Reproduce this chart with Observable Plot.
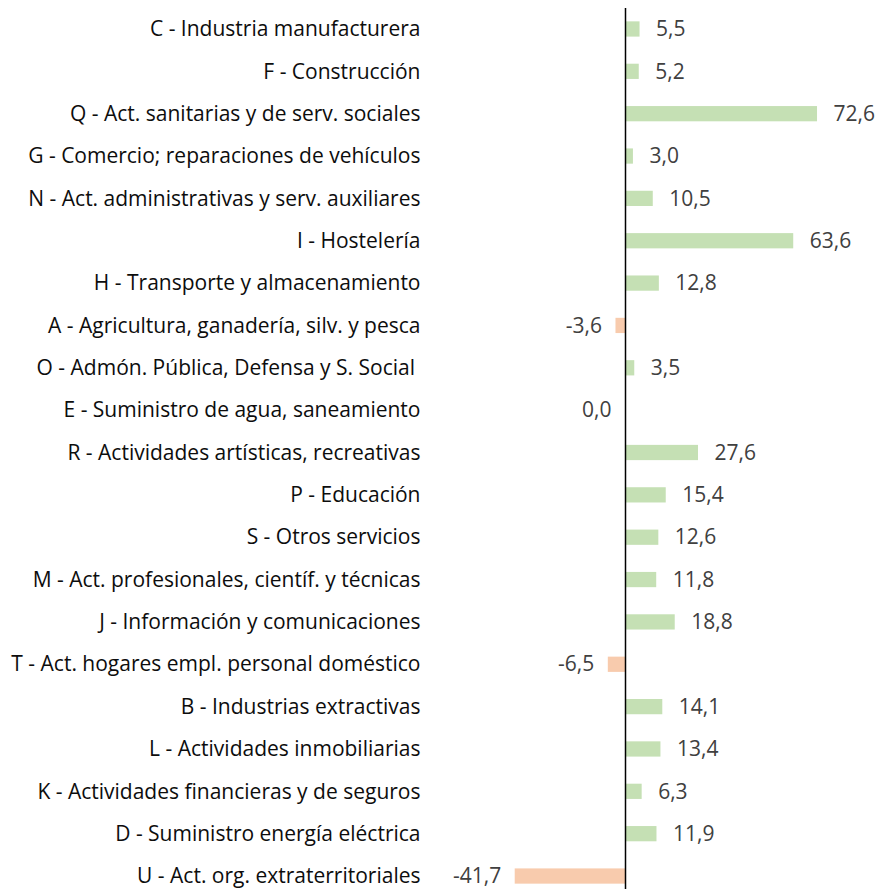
<!DOCTYPE html>
<html>
<head>
<meta charset="utf-8">
<script src="https://cdn.jsdelivr.net/npm/d3@7"></script>
<script src="https://cdn.jsdelivr.net/npm/@observablehq/plot@0.6"></script>
<style>
  html, body { margin: 0; padding: 0; background: #fff; }
  #chart svg { display: block; }
</style>
</head>
<body>
<div id="chart"></div>
<script>
const categories = [
  "C - Industria manufacturera",
  "F - Construcción",
  "Q - Act. sanitarias y de serv. sociales",
  "G - Comercio; reparaciones de vehículos",
  "N - Act. administrativas y serv. auxiliares",
  "I - Hostelería",
  "H - Transporte y almacenamiento",
  "A - Agricultura, ganadería, silv. y pesca",
  "O - Admón. Pública, Defensa y S. Social ",
  "E - Suministro de agua, saneamiento",
  "R - Actividades artísticas, recreativas",
  "P - Educación",
  "S - Otros servicios",
  "M - Act. profesionales, científ. y técnicas",
  "J - Información y comunicaciones",
  "T - Act. hogares empl. personal doméstico",
  "B - Industrias extractivas",
  "L - Actividades inmobiliarias",
  "K - Actividades financieras y de seguros",
  "D - Suministro energía eléctrica",
  "U - Act. org. extraterritoriales"
];
const values = [5.5, 5.2, 72.6, 3.0, 10.5, 63.6, 12.8, -3.6, 3.5, 0.0, 27.6, 15.4, 12.6, 11.8, 18.8, -6.5, 14.1, 13.4, 6.3, 11.9, -41.7];

const data = categories.map((c, i) => ({cat: c, v: values[i]}));
const fmt = d3.formatLocale({decimal: ",", thousands: ".", grouping: [3], currency: ["", "€"], minus: "-"}).format(".1f");
const FONT = "'Open Sans', sans-serif";

const chart = Plot.plot({
  width: 881,
  height: 889,
  marginTop: 8,
  marginBottom: 0,
  marginLeft: 425,
  marginRight: 0,
  style: {fontFamily: FONT, fontSize: "21px", background: "#fff"},
  x: {domain: [-50, 90], range: [625 - 50 * 2.645, 625 + 90 * 2.645], axis: null},
  y: {domain: categories, range: [7.8, 897.2], paddingInner: 0.64, paddingOuter: 0.32, round: false, axis: null},
  marks: [
    Plot.axisY({anchor: "left", tickSize: 0, tickPadding: 5, fill: "#0d0d0d", fontSize: 21, label: null}),
    Plot.barX(data, {x: "v", y: "cat", fill: d => d.v > 0 ? "#c5e0b4" : "#f8cbad"}),
    Plot.ruleX([0], {stroke: "#000", strokeWidth: 1.5}),
    Plot.text(data.filter(d => d.v > 0), {x: "v", y: "cat", text: d => fmt(d.v), textAnchor: "start", dx: 16, fill: "#404040", fontSize: 21}),
    Plot.text(data.filter(d => d.v <= 0), {x: "v", y: "cat", text: d => fmt(d.v), textAnchor: "end", dx: -14, fill: "#404040", fontSize: 21})
  ]
});
document.getElementById("chart").appendChild(chart);
</script>
</body>
</html>
